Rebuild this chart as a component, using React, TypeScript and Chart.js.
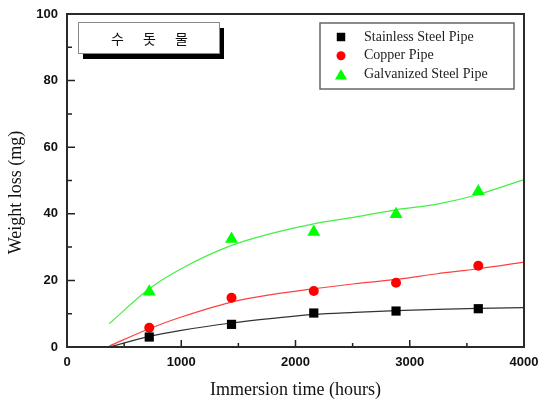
import { useEffect, useRef } from "react";
import { Chart, registerables } from "chart.js";
Chart.register(...registerables);

// Measured points
const hours = [720, 1440, 2160, 2880, 3600];
const stainless = [3.0, 6.8, 10.2, 10.8, 11.5];
const copper = [5.8, 14.8, 16.8, 19.3, 24.4];
const galvanized = [16.6, 32.4, 34.5, 39.9, 46.7];

// Fitted curves
const fitHours = [370, 720, 1000, 1440, 1800, 2160, 2520, 2880, 3240, 3600, 4000];
const fitStainless = [0.0, 3.2, 5.0, 7.2, 8.6, 9.8, 10.4, 10.9, 11.3, 11.6, 11.8];
const fitCopper = [0.3, 5.5, 9.0, 13.5, 15.8, 17.5, 19.0, 20.3, 22.0, 23.5, 25.5];
const fitGalvanized = [7.0, 17.5, 23.5, 30.5, 34.2, 37.0, 39.0, 41.2, 42.9, 45.8, 50.3];

const seriesNames = ["Stainless Steel Pipe", "Copper Pipe", "Galvanized Steel Pipe"];
const boxTitle = "수 돗 물";
const xTitle = "Immersion time (hours)";
const yTitle = "Weight loss (mg)";
const xMin = 0, xMax = 4000, xStep = 1000;
const yMin = 0, yMax = 100, yStep = 20;

const pts = (xs: number[], ys: number[]) => xs.map((x, i) => ({ x, y: ys[i] }));

function drawMarker(ctx: CanvasRenderingContext2D, style: string, cx: number, cy: number, r: number, color: string) {
  ctx.fillStyle = color;
  ctx.beginPath();
  if (style === "rect") {
    const s = r * Math.SQRT1_2;
    ctx.rect(cx - s, cy - s, 2 * s, 2 * s);
  } else if (style === "circle") {
    ctx.arc(cx, cy, r, 0, Math.PI * 2);
  } else {
    for (let k = 0; k < 3; k++) {
      const ang = (k * 2 * Math.PI) / 3;
      const px = cx + Math.sin(ang) * r;
      const py = cy - Math.cos(ang) * r;
      if (k === 0) ctx.moveTo(px, py); else ctx.lineTo(px, py);
    }
    ctx.closePath();
  }
  ctx.fill();
}

const decor = {
  id: "decor",
  afterDraw(chart: any) {
    const { ctx, chartArea: a, scales } = chart;
    const xs = scales.x, ys = scales.y;
    ctx.save();
    // inward ticks
    ctx.strokeStyle = "#222";
    ctx.lineWidth = 1.5;
    ctx.beginPath();
    const xt = xs.ticks.map((t: any) => t.value);
    for (let i = 0; i < xt.length; i++) {
      const p = xs.getPixelForValue(xt[i]);
      ctx.moveTo(p, a.bottom); ctx.lineTo(p, a.bottom - 7);
      if (i < xt.length - 1) {
        const m = xs.getPixelForValue((xt[i] + xt[i + 1]) / 2);
        ctx.moveTo(m, a.bottom); ctx.lineTo(m, a.bottom - 4);
      }
    }
    const yt = ys.ticks.map((t: any) => t.value);
    for (let i = 0; i < yt.length; i++) {
      const p = ys.getPixelForValue(yt[i]);
      ctx.moveTo(a.left, p); ctx.lineTo(a.left + 8, p);
      if (i < yt.length - 1) {
        const m = ys.getPixelForValue((yt[i] + yt[i + 1]) / 2);
        ctx.moveTo(a.left, m); ctx.lineTo(a.left + 5, m);
      }
    }
    ctx.stroke();
    // frame
    ctx.lineWidth = 2;
    ctx.strokeStyle = "#2a2a2a";
    ctx.strokeRect(a.left, a.top, a.right - a.left, a.bottom - a.top);

    // axis titles
    ctx.fillStyle = "#111";
    ctx.font = '18px "Liberation Serif"';
    ctx.textAlign = "center";
    ctx.textBaseline = "middle";
    ctx.fillText(xTitle, (a.left + a.right) / 2, 390);
    ctx.save();
    ctx.translate(16, (a.top + a.bottom) / 2 + 12);
    ctx.rotate(-Math.PI / 2);
    ctx.fillText(yTitle, 0, 0);
    ctx.restore();

    // legend box
    const lx = 320, ly = 23, lw = 194, lh = 66;
    ctx.fillStyle = "#fff";
    ctx.fillRect(lx, ly, lw, lh);
    ctx.strokeStyle = "#666";
    ctx.lineWidth = 1.5;
    ctx.strokeRect(lx, ly, lw, lh);
    ctx.font = '14px "Liberation Serif"';
    ctx.textAlign = "left";
    ctx.textBaseline = "middle";
    for (let i = 0; i < 3; i++) {
      const ds = chart.data.datasets[i];
      const cy = ly + 14 + i * 18.7;
      const r = ds.pointStyle === "rect" ? 6 : ds.pointStyle === "circle" ? 4.5 : 7;
      drawMarker(ctx, ds.pointStyle, lx + 21, cy + (ds.pointStyle === "triangle" ? 1.5 : 0), r, ds.backgroundColor);
      ctx.fillStyle = "#222";
      ctx.fillText(ds.label, lx + 44, cy);
    }

    // title box with shadow
    const bx = 78, by = 22, bw = 141, bh = 31;
    ctx.fillStyle = "#000";
    ctx.fillRect(bx + 5, by + 6, bw, bh);
    ctx.fillStyle = "#fff";
    ctx.fillRect(bx, by, bw, bh);
    ctx.strokeStyle = "#888";
    ctx.lineWidth = 1;
    ctx.strokeRect(bx + 0.5, by + 0.5, bw, bh);
    ctx.fillStyle = "#111";
    ctx.font = '14px "Noto Sans CJK KR"';
    ctx.textAlign = "left";
    (ctx as any).letterSpacing = "8px";
    const w = ctx.measureText(boxTitle).width - 8;
    ctx.fillText(boxTitle, bx + bw / 2 - w / 2 + 1, by + bh / 2 + 1);
    (ctx as any).letterSpacing = "0px";
    ctx.restore();
  },
};

export default function App() {
  const ref = useRef<HTMLCanvasElement>(null);
  useEffect(() => {
    document.body.style.margin = "0";
    const chart = new Chart(ref.current!, {
      type: "scatter",
      data: {
        datasets: [
          { label: seriesNames[0], data: pts(hours, stainless), pointStyle: "rect", pointRadius: 6.5, backgroundColor: "#000", borderColor: "#000", borderWidth: 0, showLine: false },
          { label: seriesNames[1], data: pts(hours, copper), pointStyle: "circle", pointRadius: 5, backgroundColor: "#ff0000", borderColor: "#ff0000", borderWidth: 0, showLine: false },
          { label: seriesNames[2], data: pts(hours, galvanized), pointStyle: "triangle", pointRadius: 7.5, backgroundColor: "#00ff00", borderColor: "#00ff00", borderWidth: 0, showLine: false },
          { label: "fit1", data: pts(fitHours, fitStainless), showLine: true, pointRadius: 0, borderColor: "#333", borderWidth: 1.2, cubicInterpolationMode: "monotone" },
          { label: "fit2", data: pts(fitHours, fitCopper), showLine: true, pointRadius: 0, borderColor: "#ff4040", borderWidth: 1.2, cubicInterpolationMode: "monotone" },
          { label: "fit3", data: pts(fitHours, fitGalvanized), showLine: true, pointRadius: 0, borderColor: "#44ee44", borderWidth: 1.2, cubicInterpolationMode: "monotone" },
        ] as any,
      },
      options: {
        animation: false,
        responsive: false,
        layout: { padding: { top: 14, right: 16, left: 0, bottom: 0 } },
        plugins: { legend: { display: false }, tooltip: { enabled: false } },
        scales: {
          x: {
            type: "linear",
            min: xMin, max: xMax,
            grid: { display: false, drawTicks: false },
            border: { display: false },
            ticks: { stepSize: xStep, padding: 8, color: "#111", font: { family: '"Liberation Sans"', size: 13, weight: "bold" }, maxRotation: 0, callback: (v: any) => String(v) },
            afterFit: (s: any) => { s.height = 54; s.paddingLeft = 0; s.paddingRight = 0; },
          },
          y: {
            type: "linear",
            min: yMin, max: yMax,
            grid: { display: false, drawTicks: false },
            border: { display: false },
            ticks: { stepSize: yStep, padding: 9, color: "#111", font: { family: '"Liberation Sans"', size: 13, weight: "bold" }, callback: (v: any) => String(v) },
            afterFit: (s: any) => { s.width = 67; s.paddingTop = 0; s.paddingBottom = 0; },
          },
        },
      } as any,
      plugins: [decor],
    });
    return () => chart.destroy();
  }, []);
  return (
    <div style={{ width: 540, height: 401 }}>
      <canvas ref={ref} width={540} height={401} />
    </div>
  );
}
